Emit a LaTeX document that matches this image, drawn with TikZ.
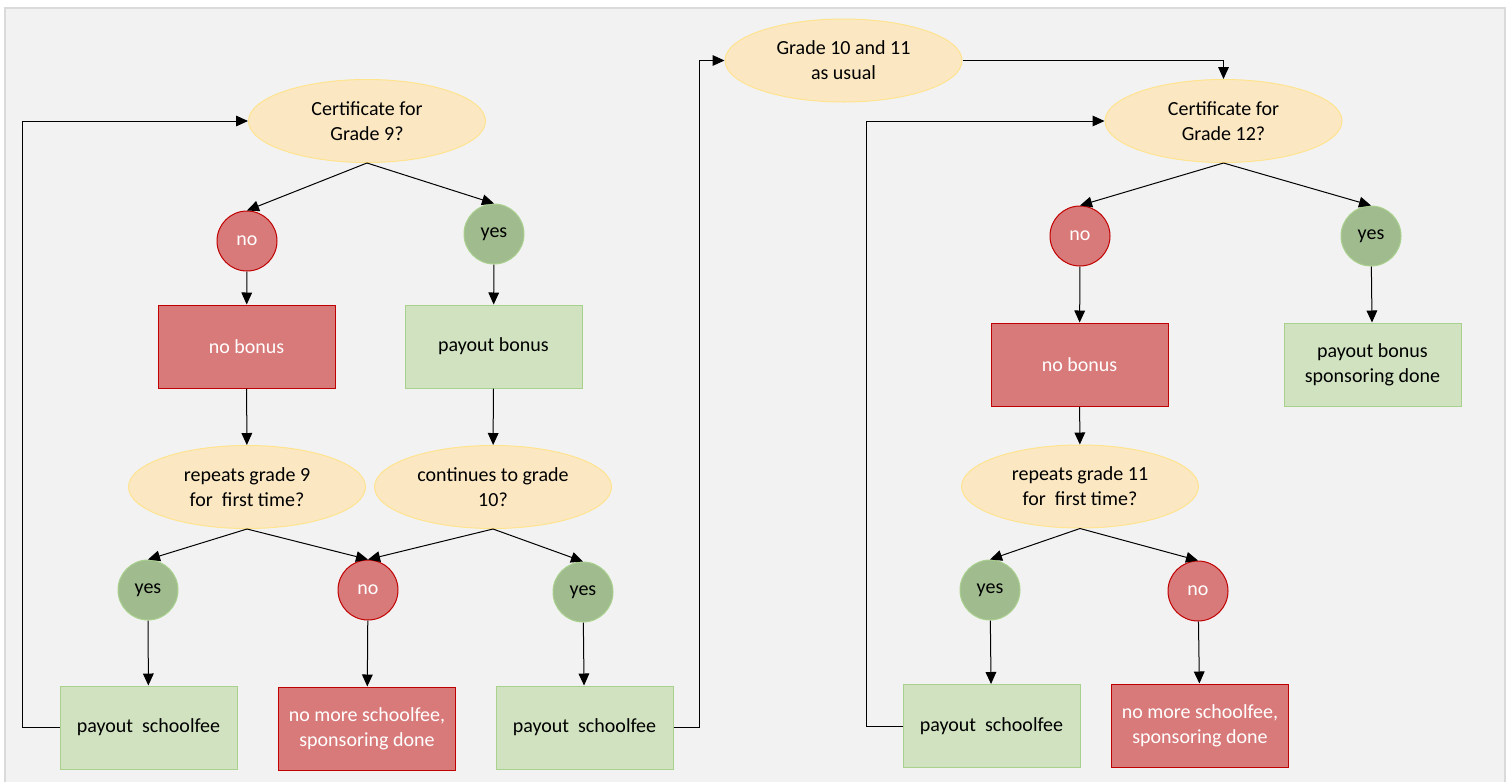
\documentclass[tikz,border=0pt]{standalone}
\usepackage{fontspec}
\setmainfont{Carlito}
\usetikzlibrary{arrows.meta,shapes.geometric}
\definecolor{bggray}{HTML}{F2F2F2}
\definecolor{bgline}{HTML}{DADADA}
\definecolor{qfill}{HTML}{FBE8C3}
\definecolor{qline}{HTML}{FFE38F}
\definecolor{rfill}{HTML}{D97A7A}
\definecolor{rline}{HTML}{C00000}
\definecolor{gcfill}{HTML}{A0BB8E}
\definecolor{gline}{HTML}{A9D18E}
\definecolor{gbfill}{HTML}{D0E2C0}
\tikzset{
  txt/.style={font=\fontsize{15}{18.75}\selectfont, align=center, inner sep=0pt},
  question/.style={txt, ellipse, minimum width=177.75pt, minimum height=62.25pt, fill=qfill, draw=qline, line width=0.75pt},
  nocirc/.style={txt, circle, minimum size=45pt, fill=rfill, draw=rline, line width=0.75pt, text=white},
  yescirc/.style={txt, circle, minimum size=45pt, fill=gcfill, draw=gline, line width=0.75pt, text=black},
  redbox/.style={txt, rectangle, minimum width=132.75pt, minimum height=62.25pt, fill=rfill, draw=rline, line width=0.75pt, text=white},
  greenbox/.style={txt, rectangle, minimum width=132.75pt, minimum height=62.25pt, fill=gbfill, draw=gline, line width=0.75pt, text=black},
  arr/.style={draw=black, line width=0.75pt, -{Triangle[length=9pt,width=8pt]}},
}
\begin{document}
\begin{tikzpicture}[x=0.75pt,y=-0.75pt]
\useasboundingbox (0,0) rectangle (1512,782);
\fill[white] (0,0) rectangle (1512,782);
\fill[bggray] (5,8) rectangle (1505,782);
\draw[bgline, line width=1.5pt] (5,782) -- (5,8) -- (1505,8) -- (1505,782);

% left part
\node[question] (c9) at (367,121) {Certificate for\\Grade 9?};
\node[nocirc] (n1) at (247,241) {no};
\node[yescirc] (y1) at (494,234) {yes};
\node[redbox] (nb1) at (246.5,346.5) {no bonus};
\node[greenbox] (pb1) at (493.5,346.5) {payout bonus};
\node[question] (r9) at (247,487) {repeats grade 9\\for\ \ first time?};
\node[question] (c10) at (493,487) {continues to grade\\10?};
\node[yescirc] (y2) at (148,590) {yes};
\node[nocirc] (n2) at (368,590) {no};
\node[yescirc] (y3) at (583,592) {yes};
\node[greenbox] (ps1) at (148.5,727.5) {payout\ \ schoolfee};
\node[redbox] (nm1) at (367,728.5) {no more schoolfee,\\sponsoring done};
\node[greenbox] (ps2) at (584.5,727.5) {payout\ \ schoolfee};

% middle / right part
\node[question] (g1011) at (843.5,60.5) {Grade 10 and 11\\as usual};
\node[question] (c12) at (1223.5,121) {Certificate for\\Grade 12?};
\node[nocirc] (n3) at (1080,236) {no};
\node[yescirc] (y4) at (1371,236) {yes};
\node[redbox] (nb2) at (1079.5,364.5) {no bonus};
\node[greenbox] (pb2) at (1372.5,364.5) {payout bonus\\sponsoring done};
\node[question] (r11) at (1080,486.5) {repeats grade 11\\for\ \ first time?};
\node[yescirc] (y5) at (990,590) {yes};
\node[nocirc] (n4) at (1198,591) {no};
\node[greenbox] (ps3) at (991.5,726) {payout\ \ schoolfee};
\node[redbox] (nm2) at (1200,725.5) {no more schoolfee,\\sponsoring done};

% helper coordinates for elbow connectors
\coordinate (lb1) at (22,0);
\coordinate (lb2) at (699,0);
\coordinate (lb3) at (866,0);

% connectors left
\draw[arr] (c9.south) -- (n1.north);
\draw[arr] (c9.south) -- (y1.north);
\draw[arr] (n1) -- (nb1);
\draw[arr] (y1) -- (pb1);
\draw[arr] (nb1) -- (r9);
\draw[arr] (pb1) -- (c10);
\draw[arr] (r9.south) -- (y2.north);
\draw[arr] (r9.south) -- (n2.north);
\draw[arr] (c10.south) -- (n2.north);
\draw[arr] (c10.south) -- (y3.north);
\draw[arr] (y2) -- (ps1);
\draw[arr] (n2) -- (nm1);
\draw[arr] (y3) -- (ps2);
\draw[arr] (ps1.west) -- (ps1.west -| lb1) -- (c9.west -| lb1) -- (c9.west);
\draw[arr] (ps2.east) -- (ps2.east -| lb2) -- (g1011.west -| lb2) -- (g1011.west);
\draw[arr] (g1011.east) -- (g1011.east -| c12.north) -- (c12.north);

% connectors right
\draw[arr] (c12.south) -- (n3.north);
\draw[arr] (c12.south) -- (y4.north);
\draw[arr] (n3) -- (nb2);
\draw[arr] (y4) -- (pb2);
\draw[arr] (nb2) -- (r11);
\draw[arr] (r11.south) -- (y5.north);
\draw[arr] (r11.south) -- (n4.north);
\draw[arr] (y5) -- (ps3);
\draw[arr] (n4) -- (nm2);
\draw[arr] (ps3.west) -- (ps3.west -| lb3) -- (c12.west -| lb3) -- (c12.west);
\end{tikzpicture}
\end{document}
